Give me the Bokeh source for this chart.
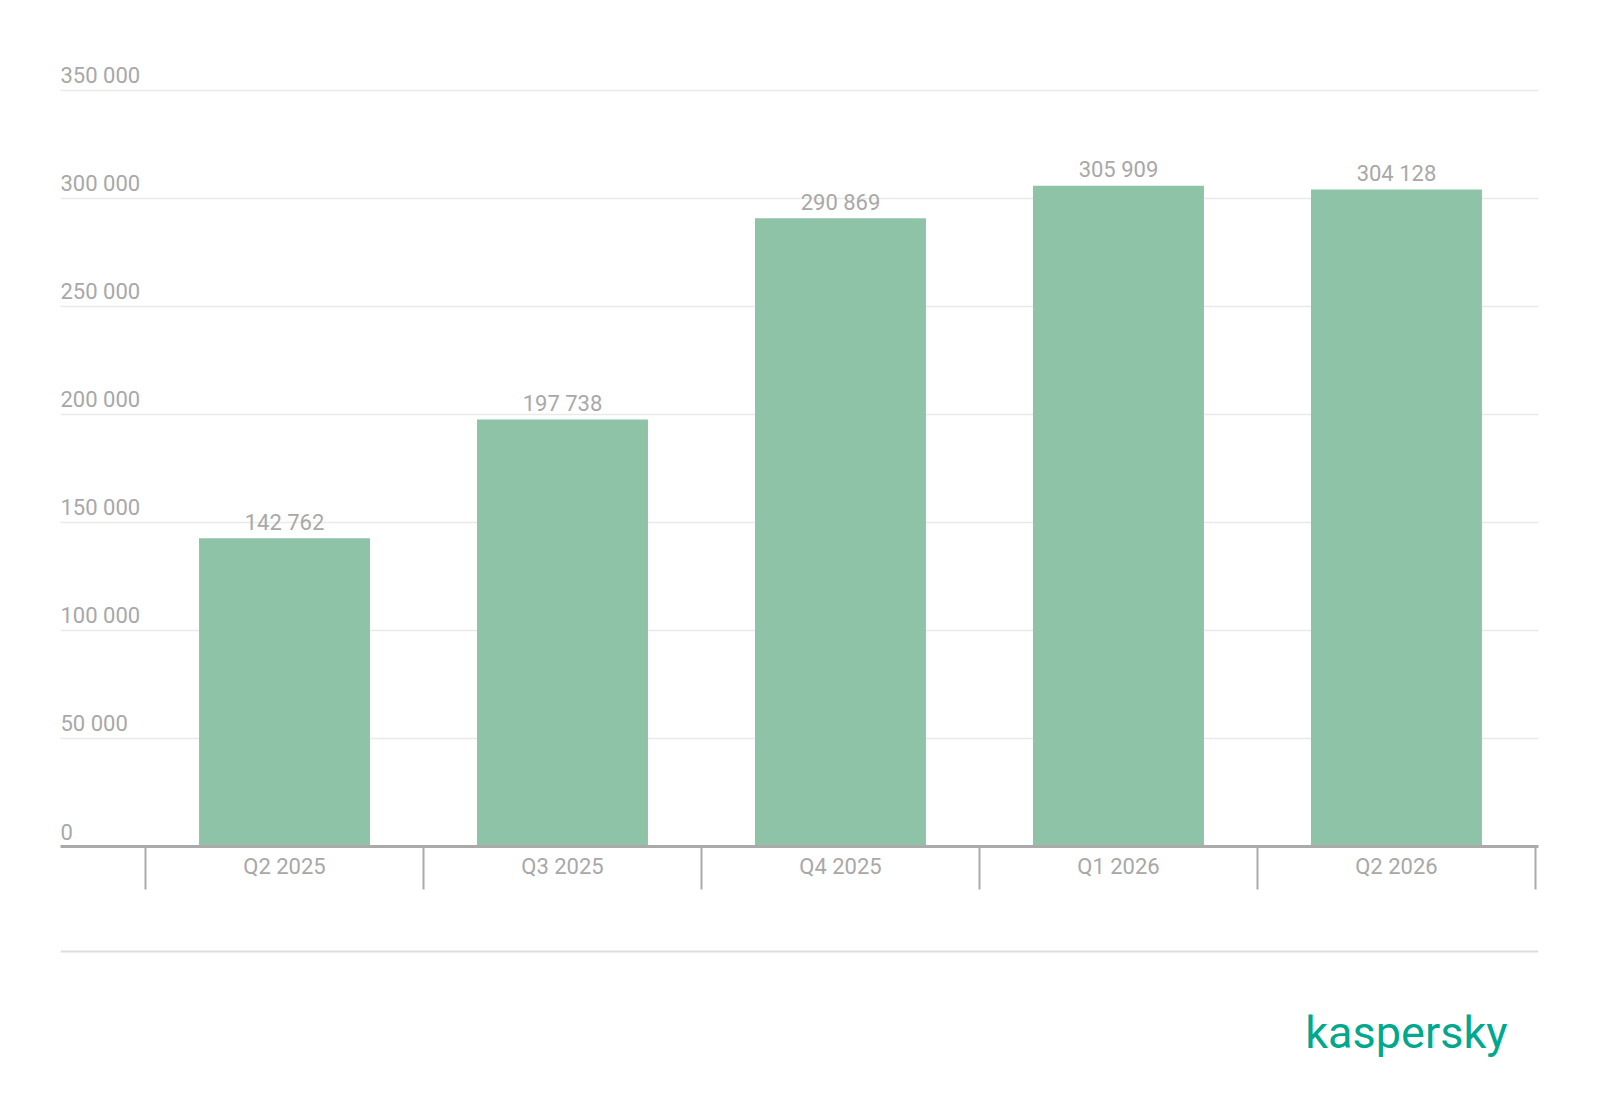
from bokeh.plotting import figure
from bokeh.models import Range1d, FixedTicker, Grid, Span
from bokeh.layouts import column
from bokeh.core.properties import value
from bokeh.embed import file_html
from bokeh.resources import INLINE

categories = ["Q2 2025", "Q3 2025", "Q4 2025", "Q1 2026", "Q2 2026"]
values = [142762, 197738, 290869, 305909, 304128]
y_ticks = [0, 50000, 100000, 150000, 200000, 250000, 300000, 350000]
y_tick_labels = ["0", "50 000", "100 000", "150 000", "200 000", "250 000", "300 000", "350 000"]
value_labels = [f"{v:,}".replace(",", " ") for v in values]

GRAY = "#a8a8a8"
BAR = "#8fc3a7"
LOGO = "#00a88e"
FONT = "Roboto"

xs = list(range(len(categories)))
x_start, x_end = -0.8058, 4.511

p = figure(width=1584, height=926,
           x_range=Range1d(x_start, x_end), y_range=Range1d(0, 363889),
           output_backend="svg", toolbar_location=None,
           y_axis_location=None, x_axis_location="below",
           min_border_left=60, min_border_right=46, min_border_top=60, min_border_bottom=80,
           outline_line_color=None, background_fill_color="white", border_fill_color="white")
p.xgrid.visible = False

grid = Grid(dimension=1, ticker=FixedTicker(ticks=y_ticks),
            grid_line_color="#e9e9e9", grid_line_width=1.5)
p.add_layout(grid)

ax = p.xaxis[0]
ax.ticker = FixedTicker(ticks=xs, minor_ticks=[i - 0.5 for i in range(len(categories) + 1)])
ax.major_label_overrides = {i: c for i, c in enumerate(categories)}
ax.major_tick_line_color = None
ax.major_tick_out = 0
ax.major_tick_in = 0
ax.minor_tick_out = 43
ax.minor_tick_in = 0
ax.minor_tick_line_color = "#aaaaaa"
ax.minor_tick_line_width = 2
ax.axis_line_color = "#aaaaaa"
ax.axis_line_width = 3
ax.major_label_text_font = FONT
ax.major_label_text_font_size = "22px"
ax.major_label_text_color = GRAY
ax.major_label_standoff = -36

p.vbar(x=xs, top=values, width=0.615, color=BAR, line_color=None)

p.text(x=xs, y=values, text=value_labels, text_align="center", text_baseline="alphabetic",
       y_offset=-16, text_font=value(FONT), text_font_size="22px", text_color=GRAY)

p.text(x=[x_start] * len(y_ticks), y=y_ticks, text=y_tick_labels, text_align="left",
       text_baseline="alphabetic", y_offset=-15, text_font=value(FONT),
       text_font_size="22px", text_color=GRAY)

p2 = figure(width=1584, height=180,
            x_range=Range1d(x_start, x_end), y_range=Range1d(180, 0),
            output_backend="svg", toolbar_location=None,
            x_axis_location=None, y_axis_location=None,
            min_border_left=60, min_border_right=46, min_border_top=0, min_border_bottom=0,
            outline_line_color=None, background_fill_color="white", border_fill_color="white")
p2.grid.visible = False
p2.add_layout(Span(location=25, dimension="width", line_color="#dddddd", line_width=2))
p2.text(x=[x_end], y=[106], text=["kaspersky"], text_align="right", text_baseline="alphabetic",
        x_offset=-31, text_font=value(FONT), text_font_size="45px", text_color=LOGO)

layout = column(p, p2)
open("out.html", "w").write(file_html(layout, INLINE))
